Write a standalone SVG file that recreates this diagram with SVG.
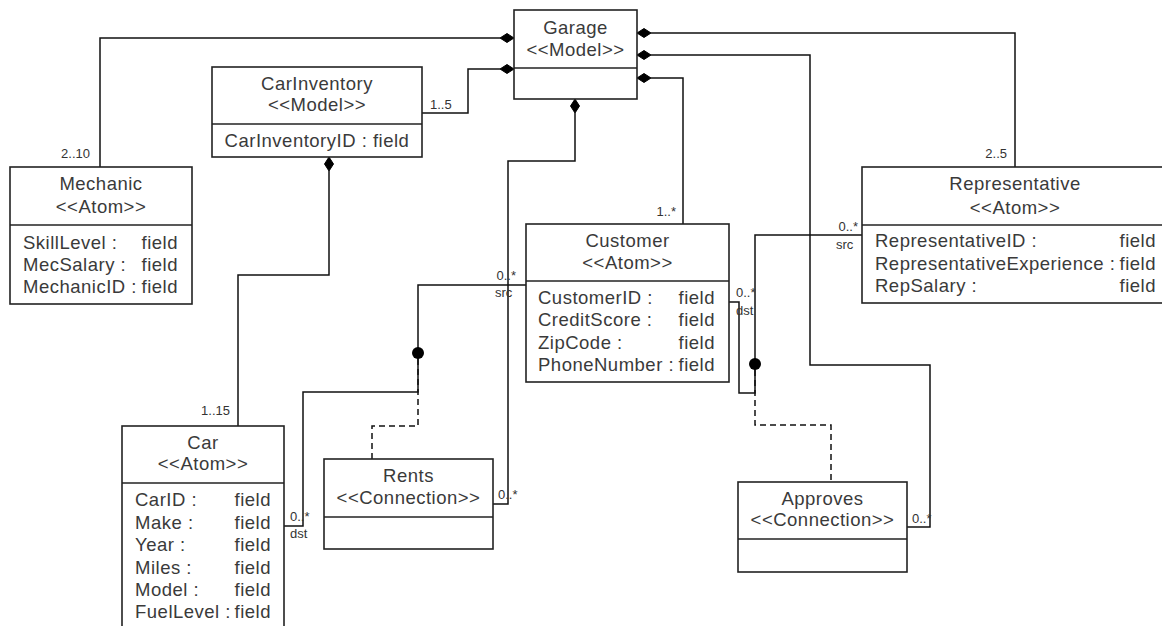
<svg xmlns="http://www.w3.org/2000/svg" width="1162" height="626" viewBox="0 0 1162 626">
<style>
.box{fill:#fff;stroke:#222;stroke-width:1.6}
.div{stroke:#222;stroke-width:1.6}
.t{font-family:"Liberation Sans",Arial,sans-serif;font-size:18.5px;fill:#3a3a3a;letter-spacing:0.5px}
.c{text-anchor:middle}
.e{text-anchor:end}
.ln{fill:none;stroke:#111;stroke-width:1.5}
.dash{fill:none;stroke:#111;stroke-width:1.5;stroke-dasharray:6,4}
.dia{fill:#000;stroke:#000;stroke-width:1}
.dot{fill:#000}
.lb{font-family:"Liberation Sans",Arial,sans-serif;font-size:13px;fill:#333}
</style>
<rect width="1162" height="626" fill="#fff"/>
<g id="connectors">
  <!-- Garage -> Mechanic -->
  <polyline class="ln" points="500,38 100,38 100,167"/>
  <polygon class="dia" points="514,38 507,33.5 500,38 507,42.5"/>
  <text class="lb e" x="90" y="158">2..10</text>
  <!-- Garage -> CarInventory -->
  <polyline class="ln" points="500,69 468,69 468,113 422,113"/>
  <polygon class="dia" points="514,69 507,64.5 500,69 507,73.5"/>
  <text class="lb" x="430" y="109">1..5</text>
  <!-- Garage -> Representative -->
  <polyline class="ln" points="651,33 1015,33 1015,167"/>
  <polygon class="dia" points="637,33 644,28.5 651,33 644,37.5"/>
  <text class="lb e" x="1007" y="158">2..5</text>
  <!-- Garage -> Approves -->
  <polyline class="ln" points="651,55 810,55 810,365 930,365 930,527 907,527"/>
  <polygon class="dia" points="637,55 644,50.5 651,55 644,59.5"/>
  <text class="lb" x="912" y="523">0..*</text>
  <!-- Garage -> Customer -->
  <polyline class="ln" points="651,78 683,78 683,224"/>
  <polygon class="dia" points="637,78 644,73.5 651,78 644,82.5"/>
  <text class="lb e" x="676" y="216">1..*</text>
  <!-- Garage -> Rents -->
  <polyline class="ln" points="575,113 575,161 508,161 508,504 493,504"/>
  <polygon class="dia" points="575,99 579.5,106 575,113 570.5,106"/>
  <text class="lb" x="498" y="499">0..*</text>
  <!-- CarInventory -> Car -->
  <polyline class="ln" points="329,171 329,275 238,275 238,426"/>
  <polygon class="dia" points="329,157 333.5,164 329,171 324.5,164"/>
  <text class="lb e" x="230" y="415">1..15</text>
  <!-- Rents src (Customer) -->
  <polyline class="ln" points="526,285 418,285 418,353"/>
  <text class="lb e" x="516" y="280">0..*</text>
  <text class="lb" x="495" y="297">src</text>
  <!-- Rents dst (Car) -->
  <polyline class="ln" points="284,526 303,526 303,392 418,392 418,353"/>
  <text class="lb" x="290" y="521">0..*</text>
  <text class="lb" x="290" y="538">dst</text>
  <circle class="dot" cx="418" cy="353" r="6"/>
  <polyline class="dash" points="418,359 418,426 372,426 372,459"/>
  <!-- Approves src (Representative) -->
  <polyline class="ln" points="862,235 755,235 755,364"/>
  <text class="lb e" x="858" y="231">0..*</text>
  <text class="lb" x="836" y="249">src</text>
  <!-- Approves dst (Customer) -->
  <polyline class="ln" points="729,302 739,302 739,393 755,393 755,364"/>
  <text class="lb" x="736" y="297">0..*</text>
  <text class="lb" x="736" y="315">dst</text>
  <circle class="dot" cx="755" cy="364" r="6"/>
  <polyline class="dash" points="755,370 755,425 831,425 831,482"/>
</g>
<g id="garage">
  <rect class="box" x="514" y="10" width="123" height="89"/>
  <line class="div" x1="514" y1="68" x2="637" y2="68"/>
  <text class="t c" x="575.5" y="33.5">Garage</text>
  <text class="t c" x="575.5" y="55.5">&lt;&lt;Model&gt;&gt;</text>
</g>
<g id="carinventory">
  <rect class="box" x="212" y="67" width="210" height="90"/>
  <line class="div" x1="212" y1="124" x2="422" y2="124"/>
  <text class="t c" x="317" y="89.5">CarInventory</text>
  <text class="t c" x="317" y="110.5">&lt;&lt;Model&gt;&gt;</text>
  <text class="t c" x="317" y="146.5">CarInventoryID : field</text>
</g>
<g id="mechanic">
  <rect class="box" x="10" y="167" width="182" height="137"/>
  <line class="div" x1="10" y1="225" x2="192" y2="225"/>
  <text class="t c" x="101" y="189.5">Mechanic</text>
  <text class="t c" x="101" y="212.5">&lt;&lt;Atom&gt;&gt;</text>
  <text class="t" x="23" y="248.5">SkillLevel :</text><text class="t e" x="178" y="248.5">field</text>
  <text class="t" x="23" y="270.5">MecSalary :</text><text class="t e" x="178" y="270.5">field</text>
  <text class="t" x="23" y="292.5">MechanicID :</text><text class="t e" x="178" y="292.5">field</text>
</g>
<g id="representative">
  <rect class="box" x="862" y="167" width="310" height="136"/>
  <line class="div" x1="862" y1="225" x2="1172" y2="225"/>
  <text class="t c" x="1015" y="189.5">Representative</text>
  <text class="t c" x="1015" y="213.5">&lt;&lt;Atom&gt;&gt;</text>
  <text class="t" x="875" y="246.5">RepresentativeID :</text><text class="t e" x="1156" y="246.5">field</text>
  <text class="t" x="875" y="269.5">RepresentativeExperience :</text><text class="t e" x="1156" y="269.5">field</text>
  <text class="t" x="875" y="291.5">RepSalary :</text><text class="t e" x="1156" y="291.5">field</text>
</g>
<g id="customer">
  <rect class="box" x="526" y="224" width="203" height="158"/>
  <line class="div" x1="526" y1="281" x2="729" y2="281"/>
  <text class="t c" x="627.5" y="246.5">Customer</text>
  <text class="t c" x="627.5" y="268.5">&lt;&lt;Atom&gt;&gt;</text>
  <text class="t" x="538" y="303.5">CustomerID :</text><text class="t e" x="715" y="303.5">field</text>
  <text class="t" x="538" y="325.5">CreditScore :</text><text class="t e" x="715" y="325.5">field</text>
  <text class="t" x="538" y="348.5">ZipCode :</text><text class="t e" x="715" y="348.5">field</text>
  <text class="t" x="538" y="370.5">PhoneNumber :</text><text class="t e" x="715" y="370.5">field</text>
</g>
<g id="car">
  <rect class="box" x="122" y="426" width="162" height="214"/>
  <line class="div" x1="122" y1="483" x2="284" y2="483"/>
  <text class="t c" x="203" y="448.5">Car</text>
  <text class="t c" x="203" y="469.5">&lt;&lt;Atom&gt;&gt;</text>
  <text class="t" x="135" y="505.5">CarID :</text><text class="t e" x="271" y="505.5">field</text>
  <text class="t" x="135" y="528.5">Make :</text><text class="t e" x="271" y="528.5">field</text>
  <text class="t" x="135" y="550.5">Year :</text><text class="t e" x="271" y="550.5">field</text>
  <text class="t" x="135" y="573.5">Miles :</text><text class="t e" x="271" y="573.5">field</text>
  <text class="t" x="135" y="595.5">Model :</text><text class="t e" x="271" y="595.5">field</text>
  <text class="t" x="135" y="617.5">FuelLevel :</text><text class="t e" x="271" y="617.5">field</text>
</g>
<g id="rents">
  <rect class="box" x="324" y="459" width="169" height="90"/>
  <line class="div" x1="324" y1="517" x2="493" y2="517"/>
  <text class="t c" x="408.5" y="481.5">Rents</text>
  <text class="t c" x="408.5" y="503.5">&lt;&lt;Connection&gt;&gt;</text>
</g>
<g id="approves">
  <rect class="box" x="738" y="482" width="169" height="90"/>
  <line class="div" x1="738" y1="539" x2="907" y2="539"/>
  <text class="t c" x="822.5" y="504.5">Approves</text>
  <text class="t c" x="822.5" y="525.5">&lt;&lt;Connection&gt;&gt;</text>
</g>
</svg>
